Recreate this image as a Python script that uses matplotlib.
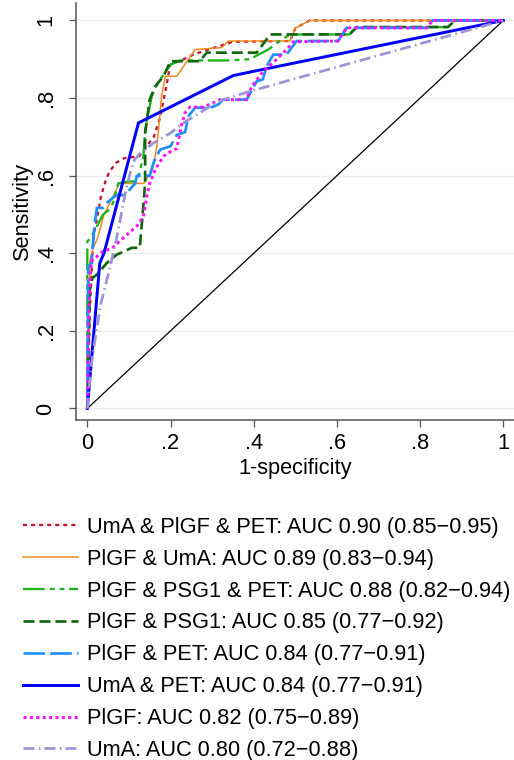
import matplotlib
matplotlib.use("Agg")
import matplotlib.pyplot as plt

plt.rcParams['font.family'] = ['Liberation Sans', 'DejaVu Sans']
plt.rcParams['lines.scale_dashes'] = False

# ---------------------------------------------------------
# DATA
# ---------------------------------------------------------
labels = [
    "UmA & PlGF & PET: AUC 0.90 (0.85\u22120.95)",
    "PlGF & UmA: AUC 0.89 (0.83\u22120.94)",
    "PlGF & PSG1 & PET: AUC 0.88 (0.82\u22120.94)",
    "PlGF & PSG1: AUC 0.85 (0.77\u22120.92)",
    "PlGF & PET: AUC 0.84 (0.77\u22120.91)",
    "UmA & PET: AUC 0.84 (0.77\u22120.91)",
    "PlGF: AUC 0.82 (0.75\u22120.89)",
    "UmA: AUC 0.80 (0.72\u22120.88)",
]

uma_plgf_pet_x = [0, 0.006, 0.014, 0.025, 0.033, 0.045, 0.053, 0.069, 0.089, 0.125, 0.133,
                  0.16, 0.175, 0.19, 0.199, 0.231, 0.255, 0.279, 0.35, 0.487, 0.5, 0.535, 1]
uma_plgf_pet_y = [0, 0.25, 0.44, 0.5, 0.547, 0.59, 0.61, 0.633, 0.645, 0.65, 0.663,
                  0.7, 0.75, 0.83, 0.886, 0.9, 0.912, 0.921, 0.945, 0.947, 0.98, 1, 1]

plgf_uma_x = [0, 0.003, 0.006, 0.013, 0.025, 0.04, 0.052, 0.077, 0.136, 0.157, 0.168, 0.178,
              0.187, 0.215, 0.259, 0.323, 0.339, 0.487, 0.5, 0.535, 1]
plgf_uma_y = [0, 0.2, 0.38, 0.41, 0.44, 0.5, 0.525, 0.58, 0.58, 0.615, 0.68, 0.8,
              0.856, 0.856, 0.925, 0.93, 0.947, 0.947, 0.98, 1, 1]

plgf_psg1_pet_x = [0, 0, 0.01, 0.038, 0.05, 0.062, 0.074, 0.098, 0.12, 0.135, 0.139, 0.155,
                   0.17, 0.2, 0.223, 0.336, 0.39, 0.435, 0.463, 0.487, 0.63, 0.648, 0.867, 0.884, 1]
plgf_psg1_pet_y = [0, 0.43, 0.443, 0.5, 0.51, 0.53, 0.58, 0.585, 0.585, 0.65, 0.72, 0.805,
                   0.84, 0.886, 0.897, 0.897, 0.9, 0.925, 0.947, 0.964, 0.964, 0.983, 0.983, 1, 1]

plgf_psg1_x = [0, 0.006, 0.012, 0.023, 0.047, 0.07, 0.107, 0.126, 0.133, 0.139, 0.139, 0.15,
               0.163, 0.183, 0.2, 0.27, 0.287, 0.407, 0.44, 0.63, 0.648, 0.867, 0.884, 1]
plgf_psg1_y = [0, 0.306, 0.336, 0.345, 0.375, 0.396, 0.414, 0.414, 0.5, 0.58, 0.71, 0.796,
               0.83, 0.856, 0.895, 0.895, 0.917, 0.917, 0.964, 0.964, 0.983, 0.983, 1, 1]

plgf_pet_x = [0, 0.002, 0.01, 0.018, 0.023, 0.038, 0.047, 0.07, 0.09, 0.115, 0.119, 0.15,
              0.159, 0.175, 0.2, 0.215, 0.235, 0.243, 0.259, 0.295, 0.314, 0.327, 0.383,
              0.395, 0.407, 0.422, 0.431, 0.447, 0.479, 0.491, 0.503, 0.603, 0.623, 0.816, 0.83, 1]
plgf_pet_y = [0, 0.366, 0.375, 0.478, 0.517, 0.517, 0.53, 0.55, 0.55, 0.58, 0.6, 0.6,
              0.633, 0.667, 0.676, 0.705, 0.712, 0.753, 0.775, 0.775, 0.783, 0.796, 0.796,
              0.82, 0.843, 0.848, 0.882, 0.912, 0.912, 0.93, 0.947, 0.947, 0.981, 0.981, 1, 1]

uma_pet_x = [0, 0.03, 0.04, 0.123, 0.351, 0.4, 1]
uma_pet_y = [0, 0.375, 0.4, 0.736, 0.858, 0.869, 1]

plgf_x = [0, 0.003, 0.006, 0.01, 0.038, 0.059, 0.087, 0.119, 0.135, 0.143, 0.15, 0.163, 0.183,
          0.2, 0.215, 0.227, 0.235, 0.247, 0.279, 0.303, 0.319, 0.383, 0.395, 0.42, 0.455,
          0.479, 0.495, 0.603, 0.623, 0.816, 0.83, 1]
plgf_y = [0, 0.2, 0.33, 0.38, 0.405, 0.413, 0.44, 0.47, 0.495, 0.547, 0.58, 0.615, 0.65,
          0.662, 0.67, 0.732, 0.762, 0.777, 0.777, 0.788, 0.796, 0.796, 0.83, 0.865, 0.9,
          0.925, 0.945, 0.947, 0.981, 0.981, 1, 1]

uma_x = [0, 0.009, 0.021, 0.033, 0.045, 0.057, 0.073, 0.085, 0.093, 0.105, 0.113, 0.127,
         0.159, 0.2, 0.231, 0.263, 0.295, 0.327, 0.39, 1]
uma_y = [0, 0.108, 0.195, 0.272, 0.323, 0.375, 0.452, 0.52, 0.564, 0.615, 0.64, 0.658,
         0.684, 0.71, 0.736, 0.757, 0.779, 0.796, 0.817, 1]

ref_x = [0, 1]
ref_y = [0, 1]

tick_vals = [0, 0.2, 0.4, 0.6, 0.8, 1]
tick_labels = ["0", ".2", ".4", ".6", ".8", "1"]

FS = 15.7

# ---------------------------------------------------------
# PLOT
# ---------------------------------------------------------
fig = plt.figure(figsize=(5.14, 7.6), dpi=100)
ax = fig.add_axes([76 / 514, 1 - 420 / 760, 1 - 76 / 514, 417 / 760])

series = [
    (uma_plgf_pet_x, uma_plgf_pet_y, dict(color="#c4122f", lw=1.65, dashes=(2.9, 2.9))),
    (plgf_uma_x, plgf_uma_y, dict(color="#ee8a22", lw=1.1)),
    (plgf_psg1_pet_x, plgf_psg1_pet_y, dict(color="#18b418", lw=1.65,
                                            dashes=(15.6, 3.8, 3.4, 3.6, 3.4, 3.4))),
    (plgf_psg1_x, plgf_psg1_y, dict(color="#116611", lw=1.95, dashes=(7.9, 3.6))),
    (plgf_pet_x, plgf_pet_y, dict(color="#1e8fff", lw=1.95, dashes=(15.5, 3.8))),
    (uma_pet_x, uma_pet_y, dict(color="#0000ff", lw=2.15)),
    (plgf_x, plgf_y, dict(color="#ff10ff", lw=2.15, dashes=(2.2, 2.4))),
    (uma_x, uma_y, dict(color="#9b92d8", lw=1.95, dashes=(7.9, 3.2, 1.1, 2.9))),
]

handles = []
for (xs, ys, style), lab in zip(series, labels):
    h, = ax.plot(xs, ys, label=lab, **style)
    handles.append(h)

ax.plot(ref_x, ref_y, color="black", lw=0.9, zorder=1)

ax.set_xlim(-0.0272, 1.0257)
ax.set_ylim(-0.0297, 1.045)

ax.set_xticks(tick_vals)
ax.set_xticklabels(tick_labels)
ax.set_yticks(tick_vals)
ax.set_yticklabels(tick_labels, rotation=90, va="center")

ax.yaxis.grid(True, color="#e6eff0", lw=1.0)
ax.set_axisbelow(True)

for side in ["top", "right"]:
    ax.spines[side].set_visible(False)
for side in ["left", "bottom"]:
    ax.spines[side].set_color("#555555")
    ax.spines[side].set_linewidth(1.1)

ax.tick_params(axis="both", direction="out", length=5, width=0.9, color="#555555",
               labelsize=FS)
ax.tick_params(axis="x", pad=4)
ax.tick_params(axis="y", pad=9)

ax.set_xlabel("1-specificity", fontsize=FS, labelpad=3)
ax.set_ylabel("Sensitivity", fontsize=FS, va="center")
ax.yaxis.set_label_coords(-0.123, 0.5)

fig.legend(handles=handles, loc="upper left", bbox_to_anchor=(14 / 514, 1 - 508 / 760),
           frameon=False, fontsize=FS, handlelength=2.52, handletextpad=0.41,
           labelspacing=0.5, borderaxespad=0)

fig.savefig("out.png", dpi=100)
